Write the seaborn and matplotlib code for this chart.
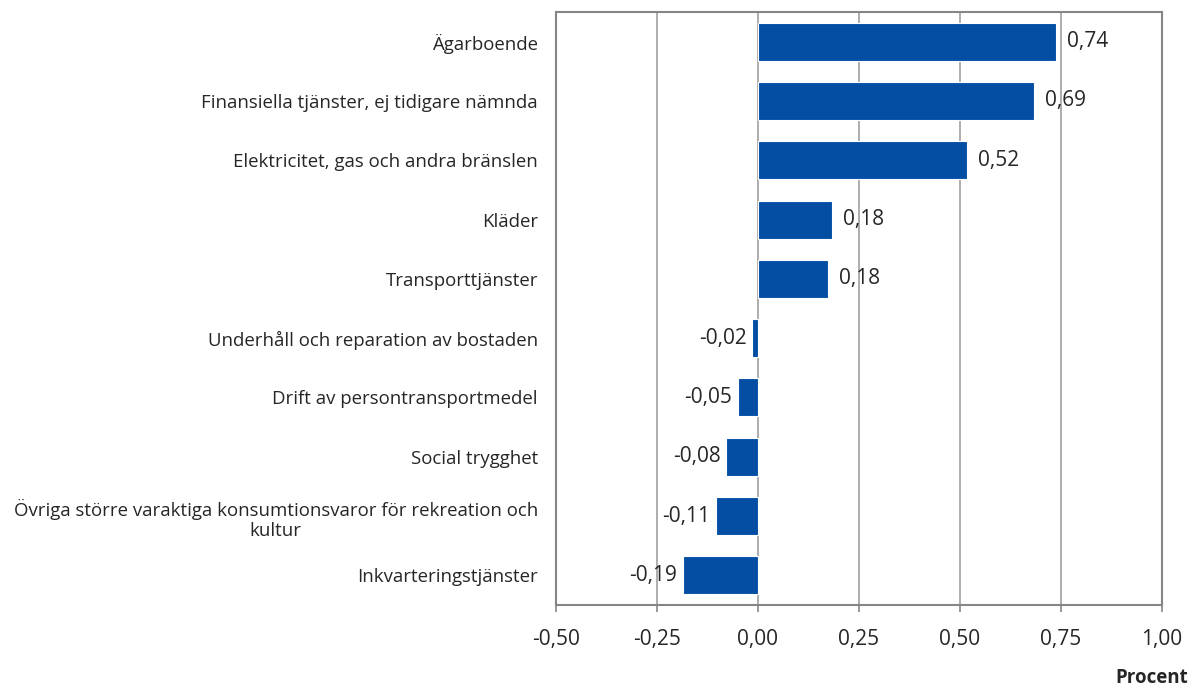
import matplotlib
matplotlib.use("Agg")
import matplotlib.pyplot as plt
import seaborn as sns
import pandas as pd

categories = [
    "Ägarboende",
    "Finansiella tjänster, ej tidigare nämnda",
    "Elektricitet, gas och andra bränslen",
    "Kläder",
    "Transporttjänster",
    "Underhåll och reparation av bostaden",
    "Drift av persontransportmedel",
    "Social trygghet",
    "Övriga större varaktiga konsumtionsvaror för rekreation och\nkultur",
    "Inkvarteringstjänster",
]
values = [0.738, 0.683, 0.517, 0.183, 0.173, -0.015, -0.05, -0.079, -0.104, -0.186]
value_labels = ["0,74", "0,69", "0,52", "0,18", "0,18", "-0,02", "-0,05", "-0,08", "-0,11", "-0,19"]
xticks = [-0.5, -0.25, 0.0, 0.25, 0.5, 0.75, 1.0]
xtick_labels = ["-0,50", "-0,25", "0,00", "0,25", "0,50", "0,75", "1,00"]

sns.set_theme(style="white")
plt.rcParams["font.family"] = ["Open Sans", "DejaVu Sans"]

df = pd.DataFrame({"cat": categories, "val": values})

fig = plt.figure(figsize=(11.94, 6.89), dpi=100)
ax = fig.add_axes([556/1194, 1-605/689, (1162-556)/1194, (605-12)/689])

for x in xticks[1:-1]:
    ax.axvline(x, color="#A0A0A0", lw=1.2, zorder=0)

sns.barplot(data=df, x="val", y="cat", order=categories, orient="h",
            color="#034EA2", saturation=1, width=0.64, edgecolor="white",
            linewidth=0.8, ax=ax, zorder=2)

ax.set_xlim(-0.5, 1.0)
ax.set_ylim(len(categories) - 0.5, -0.5)
ax.set_xticks(xticks)
ax.set_xticklabels(xtick_labels, fontsize=15)
ax.set_yticks(range(len(categories)))
ax.set_yticklabels(categories, fontsize=13.4, multialignment="center")
ax.set_xlabel("")
ax.set_ylabel("")
ax.tick_params(axis="x", bottom=True, length=5, width=1.2, color="#868686", pad=12)
ax.tick_params(axis="y", left=False, length=0, pad=13)

for s in ax.spines.values():
    s.set_color("#868686")
    s.set_linewidth(1.5)

for i, (v, t) in enumerate(zip(values, value_labels)):
    if v >= 0:
        ax.annotate(t, (v, i), xytext=(8, 0), textcoords="offset points",
                    ha="left", va="center", fontsize=15)
    else:
        ax.annotate(t, (v, i), xytext=(-4, 0), textcoords="offset points",
                    ha="right", va="center", fontsize=15)

fig.text(1188/1194, 1-678/689, "Procent", ha="right", va="center",
         fontsize=13.5, fontweight="bold")

fig.savefig("out.png", dpi=100)
